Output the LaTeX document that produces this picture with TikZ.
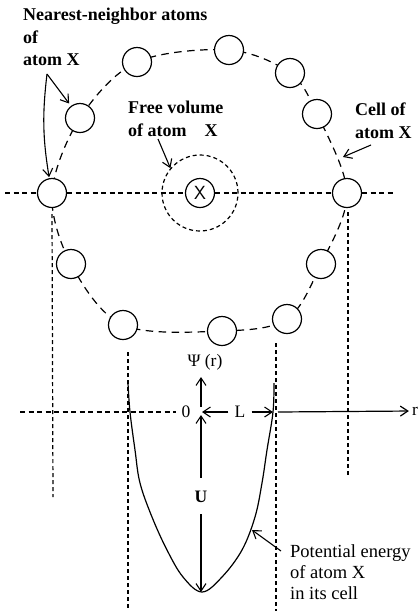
\documentclass[tikz,border=0pt]{standalone}
\usepackage{fontspec}
\setmainfont{Liberation Serif}
\usetikzlibrary{arrows.meta}
\begin{document}
\begin{tikzpicture}[x=1pt,y=-1pt,
  atom/.style={circle,draw,fill=white,minimum size=29pt,inner sep=0pt,line width=1.2pt},
  cellline/.style={dash pattern=on 7.5pt off 5.5pt,line width=1.2pt},
  hline/.style={dash pattern=on 5pt off 3.5pt,line width=1.2pt},
  vline/.style={dash pattern=on 4pt off 3pt,line width=1.2pt},
  arr/.style={-{Straight Barb[length=7.5pt,width=10pt]},line width=1.1pt},
  lbl/.style={font=\fontsize{18}{22.5}\selectfont\bfseries,align=left,inner sep=0pt},
  plain/.style={font=\fontsize{17.5}{21}\selectfont,inner sep=0pt}
]
\useasboundingbox (0,0) rectangle (420,614);
% atom positions
\coordinate (p1) at (137,62);
\coordinate (p2) at (80,118);
\coordinate (p3) at (52,193);
\coordinate (p4) at (71,264);
\coordinate (p5) at (123,325);
\coordinate (p6) at (222,331);
\coordinate (p7) at (287,319);
\coordinate (p8) at (321,264);
\coordinate (p9) at (347,193);
\coordinate (p10) at (317,114);
\coordinate (p11) at (290,73);
\coordinate (p12) at (229,50);
% cell boundary
\draw[cellline] plot[smooth cycle,tension=0.55] coordinates {(p1) (p2) (p3) (p4) (p5) (p6) (p7) (p8) (p9) (p10) (p11) (p12)};
\coordinate (cellpt) at (343,157);
% horizontal line through cell
\coordinate (h0) at (5,193);
\coordinate (h1) at (395,193);
% free volume
\node[circle,draw,vline,minimum size=76pt,inner sep=0pt] (fv) at (200,193) {};
% atoms
\node[atom] (n1) at (p1) {};
\node[atom] (n2) at (p2) {};
\node[atom] (n3) at (p3) {};
\node[atom] (n4) at (p4) {};
\node[atom] (n5) at (p5) {};
\node[atom] (n6) at (p6) {};
\node[atom] (n7) at (p7) {};
\node[atom] (n8) at (p8) {};
\node[atom] (n9) at (p9) {};
\node[atom] (n10) at (p10) {};
\node[atom] (n11) at (p11) {};
\node[atom] (n12) at (p12) {};
\node[atom,font=\fontsize{19}{19}\sffamily] (xat) at (200,193) {X};
\draw[hline] (h0) -- (n3) (n3) -- (xat) (xat) -- (n9) (n9) -- (h1);
% vertical guide lines
\coordinate (v1) at (53,497);
\coordinate (v2) at (348,477);
\coordinate (v3a) at (128,352);
\coordinate (v3b) at (128,610);
\coordinate (v4a) at (276,343);
\coordinate (v4b) at (276,611);
\draw[vline] (n3.south) ++(0,6) -- (v1);
\draw[vline] (n9.south) ++(1,4) -- (v2);
\draw[vline] (v3a) -- (v3b);
\draw[vline] (v4a) -- (v4b);
% potential well
\draw[line width=1.2pt] plot[smooth,tension=0.6] coordinates {(128,383) (130,412) (135,450) (140,483) (152,517) (167,550) (183,577) (202,592) (222,577) (242,550) (255,517) (262,483) (267,450) (273,412) (274,383)};
% axis
\coordinate (ax0) at (20,412);
\node[plain] (zero) at (186,412) {0};
\draw[hline,shorten >=5pt] (ax0) -- (zero.west);
\coordinate (ax1) at (278,412);
\node[plain] (rlab) at (415,411) {r};
\draw[arr,line width=1.2pt,shorten >=3pt] (ax1) -- (rlab.west);
% psi
\coordinate (orig) at (201,407);
\coordinate (psitip) at (201,377);
\node[plain] (psi) at (205,362) {Ψ (r)};
\draw[arr] (orig) -- (psitip);
% L
\node[plain] (L) at (240,412) {L};
\coordinate (Lleft) at (202,412);
\coordinate (Lright) at (273,412);
\draw[arr,shorten <=6pt] (L) -- (Lleft);
\draw[arr,shorten <=6pt] (L) -- (Lright);
% U
\node[plain,font=\fontsize{17.5}{21}\selectfont\bfseries] (U) at (201,497) {U};
\coordinate (Utop) at (201,415);
\coordinate (Ubot) at (201,592);
\draw[arr,shorten <=13pt] (U) -- (Utop);
\draw[arr,shorten <=11pt] (U) -- (Ubot);
% labels
\node[lbl,anchor=north west] (nnlab) at (23,8) {Nearest-neighbor atoms\\of\\atom X};
\coordinate (nnfork) at (47,74);
\draw[arr,shorten >=3pt] (nnfork) -- (n2);
\draw[arr,shorten >=1pt] (nnfork) to[bend right=8] (n3);
\node[lbl,anchor=north west] (fvlab) at (128,101) {Free volume\\of atom\quad X};
\coordinate (fvtail) at (158,139);
\draw[arr] (fvtail) -- (fv.140);
\node[lbl,anchor=north west] (celllab) at (355,103) {Cell of\\atom X};
\coordinate (celltail) at (371,145);
\draw[arr] (celltail) -- (cellpt);
\node[plain,font=\fontsize{18.5}{21}\selectfont,align=left,anchor=north west] (pelab) at (290,544) {Potential energy\\of atom X\\in its cell};
\coordinate (petail) at (281,551);
\coordinate (pept) at (252,530);
\draw[arr] (petail) -- (pept);
\end{tikzpicture}
\end{document}
